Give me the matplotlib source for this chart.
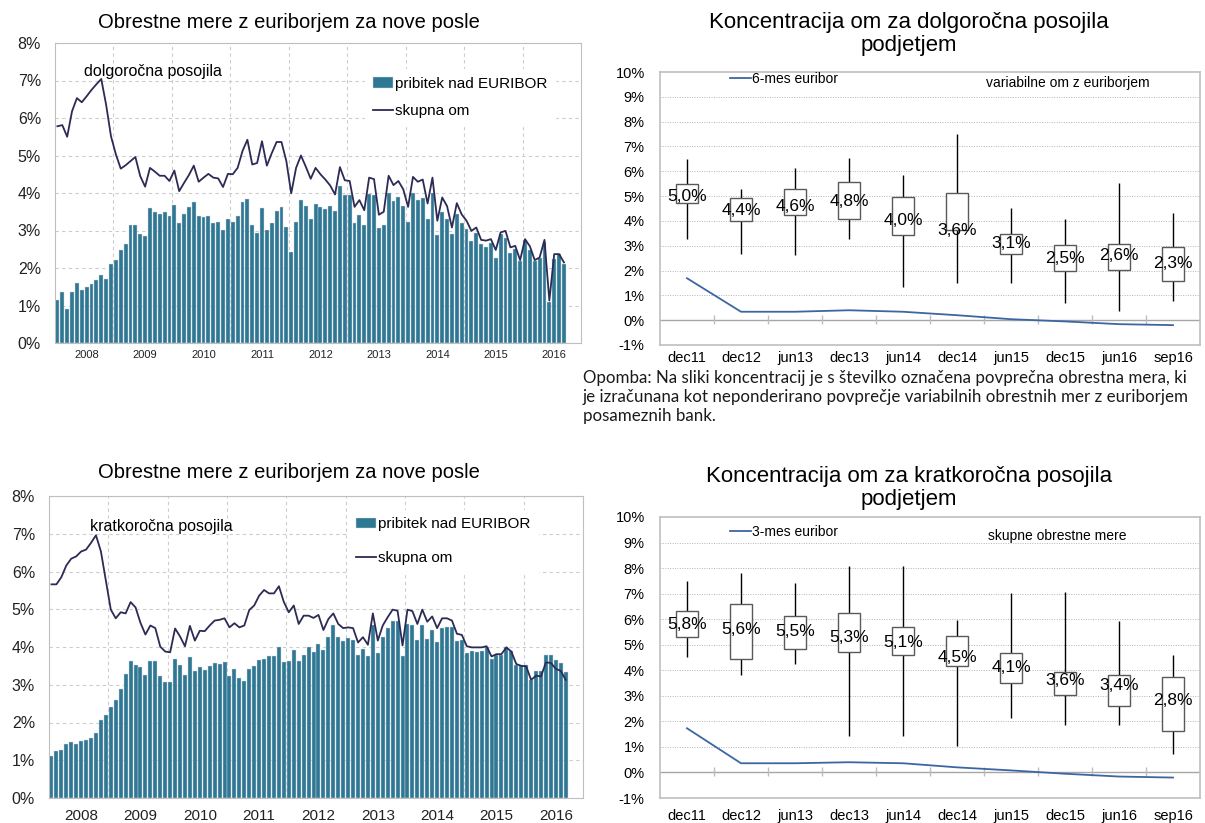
import numpy as np
import matplotlib
matplotlib.use("Agg")
import matplotlib.pyplot as plt

plt.rcParams['font.family'] = ['Liberation Sans', 'DejaVu Sans']

# monthly data, Jan 2008 - Sep 2016
years = ['2008', '2009', '2010', '2011', '2012', '2013', '2014', '2015', '2016']

pribitek_dolg = [1.15, 1.37, 0.90, 1.35, 1.59, 1.42, 1.49, 1.58, 1.68, 1.81, 1.72, 2.12,
                 2.22, 2.48, 2.63, 3.14, 3.14, 2.92, 2.86, 3.61, 3.50, 3.45, 3.50, 3.38,
                 3.67, 3.19, 3.45, 3.64, 3.76, 3.38, 3.36, 3.40, 3.20, 3.23, 3.01, 3.31,
                 3.23, 3.38, 3.76, 3.84, 3.16, 2.93, 3.60, 3.02, 3.19, 3.53, 3.64, 3.10,
                 2.42, 3.23, 3.82, 3.65, 3.32, 3.70, 3.64, 3.58, 3.65, 3.53, 4.20, 3.95,
                 3.95, 3.19, 3.42, 3.16, 3.98, 3.96, 3.08, 3.16, 4.01, 3.79, 3.90, 3.66,
                 3.23, 3.99, 3.81, 3.86, 3.30, 3.99, 2.88, 3.49, 3.32, 2.92, 3.45, 3.19,
                 3.04, 2.73, 2.93, 2.64, 2.57, 2.66, 2.28, 2.90, 2.81, 2.39, 2.52, 2.19,
                 2.74, 2.49, 2.19, 2.28, 2.70, 1.09, 2.23, 2.37, 2.12]
skupna_dolg = [5.78, 5.81, 5.50, 6.18, 6.53, 6.42, 6.58, 6.75, 6.90, 7.04, 6.35, 5.51,
               5.03, 4.65, 4.74, 4.85, 4.96, 4.45, 4.17, 4.67, 4.57, 4.46, 4.46, 4.32,
               4.60, 4.05, 4.27, 4.48, 4.73, 4.30, 4.41, 4.51, 4.41, 4.39, 4.16, 4.51,
               4.50, 4.67, 5.12, 5.42, 4.76, 4.80, 5.38, 4.73, 5.06, 5.36, 5.36, 4.85,
               3.99, 4.67, 5.00, 4.70, 4.38, 4.67, 4.50, 4.36, 4.20, 3.96, 4.69, 4.34,
               4.32, 3.63, 3.81, 3.54, 4.41, 4.37, 3.42, 3.50, 4.46, 4.21, 4.32, 4.10,
               3.63, 4.43, 4.30, 4.36, 3.72, 4.41, 3.26, 3.88, 3.65, 3.08, 3.73, 3.43,
               3.26, 2.99, 3.08, 2.75, 2.73, 2.77, 2.48, 2.95, 2.99, 2.55, 2.59, 2.21,
               2.77, 2.58, 2.21, 2.28, 2.75, 1.13, 2.37, 2.37, 2.15]

pribitek_krat = [1.11, 1.25, 1.28, 1.42, 1.49, 1.44, 1.51, 1.53, 1.59, 1.73, 2.06, 2.19,
                 2.42, 2.60, 2.89, 3.28, 3.62, 3.52, 3.48, 3.27, 3.62, 3.62, 3.24, 3.08,
                 3.08, 3.67, 3.51, 3.27, 3.74, 3.37, 3.48, 3.40, 3.50, 3.58, 3.54, 3.61,
                 3.24, 3.42, 3.17, 3.11, 3.41, 3.50, 3.65, 3.67, 3.75, 3.75, 4.01, 3.61,
                 3.64, 3.92, 3.64, 3.80, 3.99, 3.88, 4.08, 3.93, 4.27, 4.57, 4.26, 4.17,
                 4.23, 4.19, 3.80, 3.95, 3.76, 4.59, 3.84, 4.26, 4.50, 4.68, 4.68, 3.77,
                 4.61, 4.57, 4.19, 4.57, 4.22, 4.45, 4.14, 4.50, 4.54, 4.54, 4.17, 4.19,
                 3.85, 3.89, 3.86, 3.89, 3.99, 3.67, 3.80, 3.80, 3.99, 3.90, 3.52, 3.52,
                 3.52, 3.13, 3.37, 3.36, 3.80, 3.80, 3.66, 3.58, 3.35]
skupna_krat = [5.66, 5.66, 5.85, 6.16, 6.34, 6.40, 6.53, 6.58, 6.76, 6.96, 6.53, 5.76,
               4.99, 4.76, 4.92, 4.89, 5.19, 5.05, 4.64, 4.33, 4.57, 4.50, 4.01, 3.88,
               3.86, 4.49, 4.28, 4.02, 4.56, 4.17, 4.43, 4.42, 4.57, 4.70, 4.72, 4.76,
               4.52, 4.63, 4.52, 4.57, 4.98, 5.10, 5.36, 5.51, 5.42, 5.42, 5.61, 5.19,
               4.92, 5.10, 4.61, 4.83, 4.83, 4.77, 4.85, 4.45, 4.74, 4.89, 4.61, 4.50,
               4.52, 4.50, 4.12, 4.26, 4.06, 4.89, 4.17, 4.57, 4.79, 4.99, 4.96, 4.04,
               4.99, 4.95, 4.61, 4.99, 4.67, 4.81, 4.50, 4.76, 4.76, 4.70, 4.35, 4.32,
               4.02, 3.99, 3.99, 3.99, 4.02, 3.75, 3.81, 3.81, 3.99, 3.88, 3.55, 3.50,
               3.49, 3.13, 3.24, 3.22, 3.59, 3.58, 3.42, 3.37, 3.13]

# concentration charts
obdobja = ['dec11', 'dec12', 'jun13', 'dec13', 'jun14', 'dec14', 'jun15', 'dec15', 'jun16', 'sep16']

dolg_max = [6.49, 5.28, 6.12, 6.54, 5.85, 7.51, 4.54, 4.07, 5.54, 4.32]
dolg_q3 = [5.47, 4.91, 5.30, 5.55, 4.95, 5.11, 3.49, 3.04, 3.08, 2.95]
dolg_q1 = [4.73, 4.00, 4.23, 4.08, 3.43, 3.62, 2.65, 1.97, 2.03, 1.57]
dolg_min = [3.27, 2.65, 2.61, 3.27, 1.32, 1.49, 1.49, 0.68, 0.35, 0.78]
dolg_avg = [5.0, 4.4, 4.6, 4.8, 4.0, 3.6, 3.1, 2.5, 2.6, 2.3]
euribor_6m = [1.69, 0.34, 0.34, 0.40, 0.34, 0.20, 0.04, -0.05, -0.16, -0.20]

krat_max = [7.49, 7.81, 7.42, 8.07, 8.07, 5.96, 7.04, 7.07, 5.94, 4.60]
krat_q3 = [6.33, 6.58, 6.13, 6.26, 5.69, 5.36, 4.66, 3.92, 3.82, 3.72]
krat_q1 = [5.31, 4.45, 4.82, 4.70, 4.58, 4.15, 3.49, 3.03, 2.60, 1.63]
krat_min = [4.53, 3.82, 4.24, 1.43, 1.43, 1.02, 2.15, 1.84, 1.84, 0.73]
krat_avg = [5.8, 5.6, 5.5, 5.3, 5.1, 4.5, 4.1, 3.6, 3.4, 2.8]
euribor_3m = [1.73, 0.36, 0.36, 0.40, 0.36, 0.20, 0.08, -0.05, -0.16, -0.20]

BAR = '#2f7893'
LINE = '#2b2b55'
EUR = '#3c66a3'
FRAME = '#bfbfbf'

W, H = 1205, 823
fig = plt.figure(figsize=(W / 100, H / 100), dpi=100)


def box(l, t, r, b):
    return [l / W, 1 - b / H, (r - l) / W, (b - t) / H]


def left_chart(ax, bars, line, note, note_xy, leg_xy, spacing, xsize, xpad):
    x = np.arange(len(bars))
    b = ax.bar(x, bars, width=0.8, color=BAR, edgecolor='#d4d4e6', linewidth=0.3,
               label='pribitek nad EURIBOR', zorder=2)
    l, = ax.plot(x, line, color=LINE, lw=1.3, label='skupna om', zorder=3)
    ax.set_xlim(-0.5, 107.5)
    ax.set_ylim(0, 8)
    ax.set_yticks(range(9))
    ax.set_yticklabels(['%d%%' % v for v in range(9)], fontsize=11.5, color='#222222')
    ax.set_xticks([6 + 12 * k for k in range(len(years))])
    ax.set_xticklabels(years, fontsize=xsize, color='#222222')
    ax.set_xticks([11.5 + 12 * k for k in range(8)], minor=True)
    ax.tick_params(which='both', length=0)
    ax.tick_params(axis='y', pad=10)
    ax.tick_params(axis='x', pad=xpad)
    ax.grid(axis='y', which='major', color='#cccccc', ls=(0, (3, 3)), lw=0.8, zorder=0)
    ax.grid(axis='x', which='minor', color='#cccccc', ls=(0, (3, 3)), lw=0.8, zorder=0)
    for s in ax.spines.values():
        s.set_color(FRAME)
    ax.text(note_xy[0], note_xy[1], note, transform=ax.transAxes, fontsize=11.5,
            ha='left', va='center', zorder=4)
    leg = ax.legend(handles=[b, l], loc='upper left', bbox_to_anchor=leg_xy, fontsize=11,
                    handlelength=1.3, handletextpad=0.15, labelspacing=spacing,
                    borderpad=0.5, borderaxespad=0, frameon=True, fancybox=False)
    leg.get_frame().set_facecolor('white')
    leg.get_frame().set_edgecolor('white')
    leg.get_frame().set_alpha(1)
    leg.set_zorder(5)


def conc_chart(ax, vmax, q3, q1, vmin, avg, eur, eur_label, note, note_xy, leg_xy, xpad):
    x = np.arange(len(obdobja))
    ax.set_xlim(-0.5, 9.5)
    ax.set_ylim(-1, 10)
    for v in range(1, 10):
        ax.axhline(v, color='#b4b4b4', ls=(0, (1, 1.5)), lw=0.7, zorder=0)
    ax.axhline(0, color='#a6a6a6', lw=1, zorder=1)
    ax.vlines(np.arange(0.5, 9.5, 1), -0.15, 0.22, color='#bdbdbd', lw=1, zorder=1)
    ax.vlines(x, vmin, vmax, color='black', lw=1, zorder=2)
    ax.bar(x, np.array(q3) - np.array(q1), bottom=q1, width=0.4, facecolor='white',
           edgecolor='#595959', linewidth=1, zorder=3)
    for xi, a in zip(x, avg):
        ax.text(xi, a, ('%.1f%%' % a).replace('.', ','), ha='center', va='center',
                fontsize=12.5, zorder=4)
    ax.plot(x, eur, color=EUR, lw=1.3, label=eur_label, zorder=4)
    ax.set_yticks(range(-1, 11))
    ax.set_yticklabels(['%d%%' % v for v in range(-1, 11)], fontsize=10.5)
    ax.set_xticks(x)
    ax.set_xticklabels(obdobja, fontsize=10.5)
    ax.tick_params(length=0)
    ax.tick_params(axis='y', pad=11)
    ax.tick_params(axis='x', pad=xpad)
    for s in ax.spines.values():
        s.set_color(FRAME)
        s.set_linewidth(1.2)
    ax.text(note_xy[0], note_xy[1], note, transform=ax.transAxes, fontsize=10,
            ha='left', va='center')
    ax.legend(loc='center left', bbox_to_anchor=leg_xy, fontsize=10,
              handlelength=1.5, handletextpad=0.1, borderpad=0, borderaxespad=0,
              frameon=False)


ax1 = fig.add_axes(box(55, 43, 581, 343))
left_chart(ax1, pribitek_dolg, skupna_dolg, 'dolgoročna posojila', (0.055, 0.906),
           (0.59, 0.912), 0.85, 8, 5)
ax2 = fig.add_axes(box(49, 496, 583, 798))
left_chart(ax2, pribitek_krat, skupna_krat, 'kratkoročna posojila', (0.077, 0.90),
           (0.56, 0.955), 1.3, 11, 8)

ax3 = fig.add_axes(box(660, 72, 1200, 345))
conc_chart(ax3, dolg_max, dolg_q3, dolg_q1, dolg_min, dolg_avg, euribor_6m,
           '6-mes euribor', 'variabilne om z euriborjem', (0.604, 0.96), (0.13, 0.974), 4)
ax4 = fig.add_axes(box(660, 517, 1200, 798))
conc_chart(ax4, krat_max, krat_q3, krat_q1, krat_min, krat_avg, euribor_3m,
           '3-mes euribor', 'skupne obrestne mere', (0.607, 0.932), (0.13, 0.947), 8)

fig.text(289 / W, 1 - 22 / H, 'Obrestne mere z euriborjem za nove posle', fontsize=14.5,
         ha='center', va='center')
fig.text(289 / W, 1 - 472 / H, 'Obrestne mere z euriborjem za nove posle', fontsize=14.5,
         ha='center', va='center')
fig.text(909 / W, 1 - 34 / H, 'Koncentracija om za dolgoročna posojila\npodjetjem',
         fontsize=16, ha='center', va='center', linespacing=1.17)
fig.text(909 / W, 1 - 488 / H, 'Koncentracija om za kratkoročna posojila\npodjetjem',
         fontsize=16, ha='center', va='center', linespacing=1.17)

fig.text(583 / W, 1 - 397 / H,
         'Opomba: Na sliki koncentracij je s številko označena povprečna obrestna mera, ki\n'
         'je izračunana kot neponderirano povprečje variabilnih obrestnih mer z euriborjem\n'
         'posameznih bank.',
         fontsize=12.2, family=['Lato', 'DejaVu Sans'], ha='left', va='center',
         linespacing=1.25, color='#1a1a1a')

fig.savefig('out.png', dpi=100)
